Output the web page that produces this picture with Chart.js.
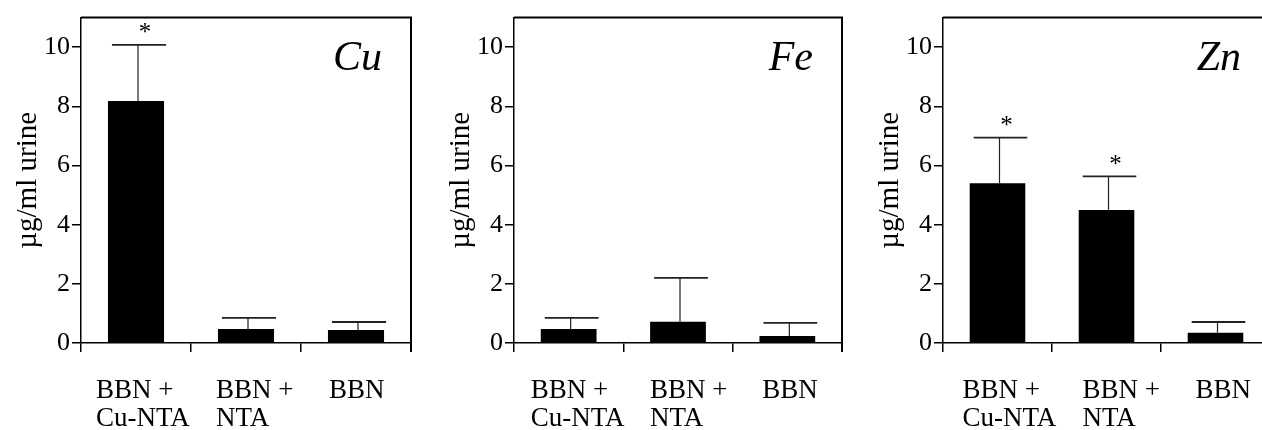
<!DOCTYPE html>
<html>
<head>
<meta charset="utf-8">
<script src="https://cdn.jsdelivr.net/npm/chart.js@4.4.1/dist/chart.umd.min.js"></script>
<style>
    html, body { margin: 0; padding: 0; background: #fff; overflow: hidden; }
    body { width: 1262px; height: 430px; position: relative; }
    .panel { position: absolute; top: 0; height: 430px; }
</style>
</head>
<body>
<div class="panel" style="left:0px; width:420px;"><canvas id="cuChart"></canvas></div>
<div class="panel" style="left:433px; width:418px;"><canvas id="feChart"></canvas></div>
<div class="panel" style="left:862px; width:417px;"><canvas id="znChart"></canvas></div>
<script>
    // Data
    const categories = [['BBN +', 'Cu-NTA'], ['BBN +', 'NTA'], ['BBN']];
    const yTicks = [0, 2, 4, 6, 8, 10];

    const cuMeans = [8.18, 0.47, 0.44];
    const cuErrors = [1.90, 0.38, 0.27];
    const cuStars = [true, false, false];

    const feMeans = [0.47, 0.72, 0.24];
    const feErrors = [0.38, 1.48, 0.44];
    const feStars = [false, false, false];

    const znMeans = [5.40, 4.50, 0.35];
    const znErrors = [1.54, 1.13, 0.36];
    const znStars = [true, true, false];

    const serif = "'Liberation Serif', 'Times New Roman', serif";

    // Error bars, asterisks, frame and element label
    const decorPlugin = {
        id: 'decor',
        beforeDraw(chart, args, opts) {
            // left-aligned category labels, each starting a little left of its bar centre
            const items = chart.scales.x.getLabelItems(chart.chartArea);
            items.forEach((item, i) => {
                if (item._shifted) return;
                item.options.translation[0] += opts.labelShift[i] || 0;
                item._shifted = true;
            });
        },
        afterDatasetsDraw(chart, args, opts) {
            const ctx = chart.ctx;
            const area = chart.chartArea;
            const yScale = chart.scales.y;
            const meta = chart.getDatasetMeta(0);
            ctx.save();

            meta.data.forEach((bar, i) => {
                const mean = opts.means[i];
                const top = yScale.getPixelForValue(mean + opts.errors[i]);
                const half = bar.width / 2;
                ctx.strokeStyle = '#222';
                ctx.lineWidth = 1.2;
                ctx.beginPath();
                ctx.moveTo(bar.x + 2, bar.y);
                ctx.lineTo(bar.x + 2, top);
                ctx.stroke();
                ctx.lineWidth = 1.8;
                ctx.beginPath();
                ctx.moveTo(bar.x - half + 4, top);
                ctx.lineTo(bar.x + half + 2, top);
                ctx.stroke();

                if (opts.stars[i]) {
                    ctx.fillStyle = '#000';
                    ctx.font = '25px ' + serif;
                    ctx.textAlign = 'center';
                    ctx.textBaseline = 'middle';
                    ctx.fillText('*', bar.x + 9, top - 11);
                }
            });

            // top and right edges of the box
            ctx.strokeStyle = '#000';
            ctx.lineWidth = 2;
            ctx.beginPath();
            ctx.moveTo(area.left, area.top);
            ctx.lineTo(area.right, area.top);
            ctx.lineTo(area.right, area.bottom + 9);
            ctx.stroke();

            // metal name
            ctx.fillStyle = '#000';
            ctx.font = 'italic 42px ' + serif;
            ctx.textAlign = 'right';
            ctx.textBaseline = 'alphabetic';
            ctx.fillText(opts.label, area.right - 29, area.top + 52);
            ctx.restore();
        }
    };

    function makeChart(canvasId, label, means, errors, stars, labelShift) {
        const ctx = document.getElementById(canvasId).getContext('2d');
        return new Chart(ctx, {
            type: 'bar',
            data: {
                labels: categories,
                datasets: [{
                    data: means,
                    backgroundColor: '#000',
                    borderWidth: 0,
                    categoryPercentage: 1,
                    barPercentage: 0.51
                }]
            },
            options: {
                responsive: true,
                maintainAspectRatio: false,
                animation: false,
                layout: { padding: { top: 15, right: 9, left: 0, bottom: 0 } },
                scales: {
                    x: {
                        afterFit(scale) {
                            scale.height = 87;
                            scale.paddingLeft = 0;
                            scale.paddingRight = 0;
                        },
                        grid: {
                            offset: true,
                            drawOnChartArea: false,
                            drawTicks: true,
                            tickLength: 9,
                            color: '#000',
                            lineWidth: 1.5
                        },
                        border: { display: true, color: '#000', width: 1.5 },
                        ticks: {
                            color: '#000',
                            align: 'start',
                            padding: 25,
                            maxRotation: 0,
                            autoSkip: false,
                            font: { family: serif, size: 27, lineHeight: 1.04 }
                        }
                    },
                    y: {
                        min: 0,
                        max: 11,
                        afterFit(scale) { scale.width = 81; },
                        afterBuildTicks(scale) {
                            scale.ticks = yTicks.map(v => ({ value: v }));
                        },
                        grid: {
                            drawOnChartArea: false,
                            drawTicks: true,
                            tickLength: 9,
                            color: '#000',
                            lineWidth: 1.5
                        },
                        border: { display: true, color: '#000', width: 1.5 },
                        ticks: {
                            color: '#000',
                            padding: 2,
                            font: { family: serif, size: 26 }
                        },
                        title: {
                            display: true,
                            text: 'µg/ml urine',
                            color: '#000',
                            padding: { top: 11, bottom: 0 },
                            font: { family: serif, size: 29 }
                        }
                    }
                },
                plugins: {
                    legend: { display: false },
                    tooltip: { enabled: false },
                    decor: { label: label, means: means, errors: errors, stars: stars, labelShift: labelShift }
                }
            },
            plugins: [decorPlugin]
        });
    }

    makeChart('cuChart', 'Cu', cuMeans, cuErrors, cuStars, [-40, -30, -27]);
    makeChart('feChart', 'Fe', feMeans, feErrors, feStars, [-38, -28, -25]);
    makeChart('znChart', 'Zn', znMeans, znErrors, znStars, [-35, -24, -20]);
</script>
</body>
</html>
